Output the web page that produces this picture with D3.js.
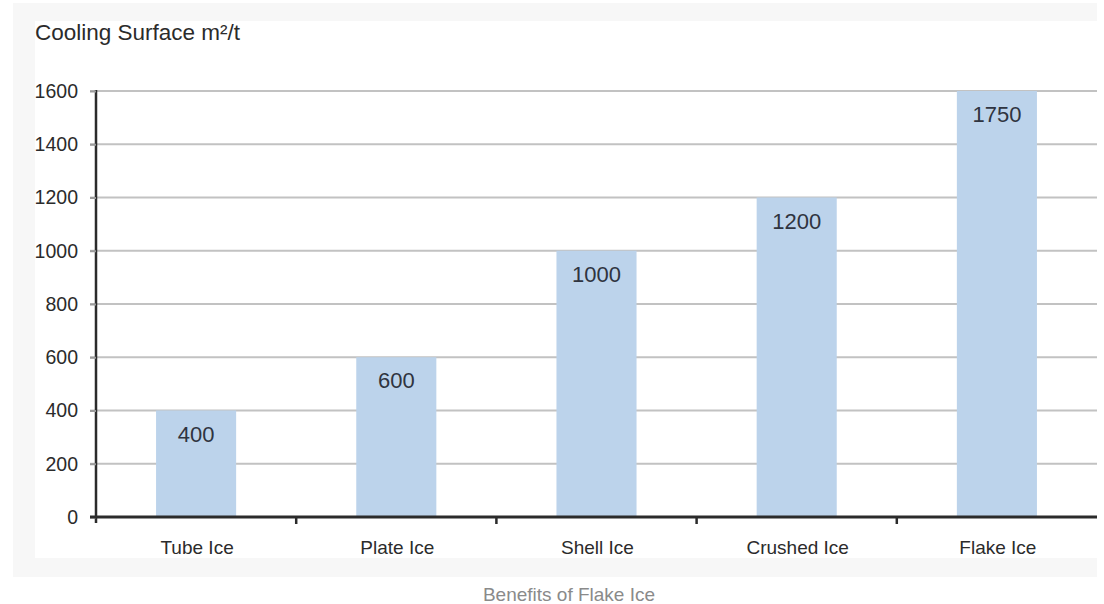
<!DOCTYPE html>
<html>
<head>
<meta charset="utf-8">
<script src="https://cdn.jsdelivr.net/npm/d3@7"></script>
<style>
  html, body { margin: 0; padding: 0; background: #ffffff; }
  svg { display: block; font-family: "Liberation Sans", Arial, Helvetica, sans-serif; }
</style>
</head>
<body>
<svg id="chart" width="1104" height="604"></svg>
<script>
// Cooling surface per tonne for each ice type
const categories = ["Tube Ice", "Plate Ice", "Shell Ice", "Crushed Ice", "Flake Ice"];
const values = [400, 600, 1000, 1200, 1750];
const yTicks = [0, 200, 400, 600, 800, 1000, 1200, 1400, 1600];
const yTitle = "Cooling Surface m²/t";
const caption = "Benefits of Flake Ice";

const svg = d3.select("#chart");
const plot = { left: 96, right: 1097, top: 91, bottom: 517 };

// Background panels
svg.append("rect").attr("x", 13).attr("y", 3).attr("width", 1084).attr("height", 574).attr("fill", "#f7f7f7");
svg.append("rect").attr("x", 35).attr("y", 21).attr("width", 1062).attr("height", 537).attr("fill", "#ffffff");

const x = d3.scaleBand()
  .domain(categories)
  .range([plot.left, plot.right])
  .paddingInner(0.6)
  .paddingOuter(0.3);

// Axis is capped at 1600; taller bars are clipped at the top
const y = d3.scaleLinear()
  .domain([0, 1600])
  .range([plot.bottom, plot.top])
  .clamp(true);

// Horizontal gridlines
svg.append("g")
  .selectAll("line")
  .data(yTicks.filter(d => d > 0))
  .join("line")
  .attr("x1", plot.left - 6)
  .attr("x2", plot.right)
  .attr("y1", d => y(d))
  .attr("y2", d => y(d))
  .attr("stroke", "#c2c2c2")
  .attr("stroke-width", 2);

// Bars
svg.append("g")
  .selectAll("rect")
  .data(values)
  .join("rect")
  .attr("x", (d, i) => x(categories[i]))
  .attr("width", x.bandwidth())
  .attr("y", d => y(d))
  .attr("height", d => y(0) - y(d))
  .attr("fill", "#bcd3eb");

// Value labels inside the bar tops
svg.append("g")
  .selectAll("text")
  .data(values)
  .join("text")
  .attr("x", (d, i) => x(categories[i]) + x.bandwidth() / 2)
  .attr("y", d => y(d) + 31)
  .attr("text-anchor", "middle")
  .attr("font-size", 22)
  .attr("fill", "#2f3440")
  .text(d => d);

// Y axis
const yAxis = d3.axisLeft(y).tickValues(yTicks).tickSize(6).tickPadding(12).tickFormat(d3.format("d"));
const gy = svg.append("g").attr("transform", `translate(${plot.left},0)`).call(yAxis);
gy.select(".domain").attr("stroke", "#2b2b2b").attr("stroke-width", 2.5).attr("d", `M0,${plot.bottom + 6}V${plot.top - 1}`);
gy.selectAll(".tick line").attr("stroke", "#9a9a9a").attr("stroke-width", 2);
gy.selectAll(".tick text").attr("font-size", 19.5).attr("fill", "#2b2b2b").attr("font-family", "Liberation Sans, Arial, sans-serif");

// X axis with ticks on the band boundaries
const gx = svg.append("g").attr("transform", `translate(0,${plot.bottom})`);
gx.append("line")
  .attr("x1", plot.left - 6).attr("x2", plot.right)
  .attr("stroke", "#2b2b2b").attr("stroke-width", 3);
const step = x.step();
const boundaries = categories.slice(1).map(c => x(c) - step * x.paddingInner() / 2);
gx.selectAll("line.tick")
  .data(boundaries)
  .join("line")
  .attr("class", "tick")
  .attr("x1", d => d).attr("x2", d => d)
  .attr("y1", 0).attr("y2", 7)
  .attr("stroke", "#2b2b2b").attr("stroke-width", 2.5);
gx.selectAll("text")
  .data(categories)
  .join("text")
  .attr("x", d => x(d) + x.bandwidth() / 2 + 1)
  .attr("y", 37)
  .attr("text-anchor", "middle")
  .attr("font-size", 19)
  .attr("fill", "#2b2b2b")
  .text(d => d);

// Axis title
svg.append("text")
  .attr("x", 35).attr("y", 40)
  .attr("font-size", 22.5)
  .attr("fill", "#2b2b2b")
  .text(yTitle);

// Caption below the chart
svg.append("text")
  .attr("x", 569).attr("y", 601)
  .attr("text-anchor", "middle")
  .attr("font-size", 19)
  .attr("fill", "#8a8a8a")
  .text(caption);
</script>
</body>
</html>
